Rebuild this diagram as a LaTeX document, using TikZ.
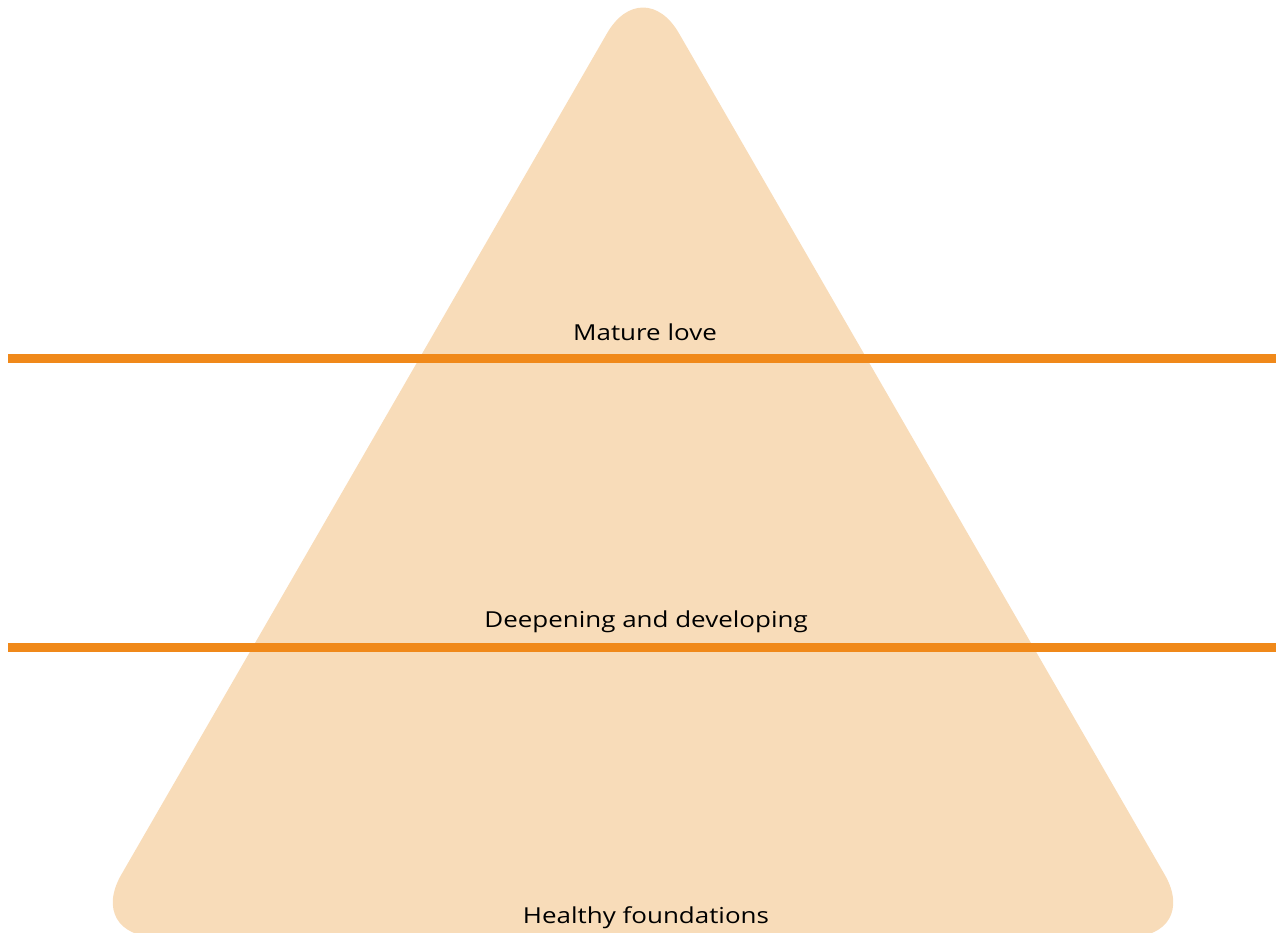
\documentclass[tikz,border=0pt]{standalone}
\usepackage{fontspec}
\setmainfont{Open Sans}
\newfontfamily\levelfont[FakeStretch=1.18]{Open Sans}
\definecolor{pyramidfill}{HTML}{F8DCB9}
\definecolor{bandline}{HTML}{F0891A}
\begin{document}
\begin{tikzpicture}[x=1pt,y=-1pt,
  label/.style={anchor=base,font=\levelfont\fontsize{22}{26}\selectfont,text=black,inner sep=0pt},
  divider/.style={line width=9pt,bandline}]
\useasboundingbox (0,0) rectangle (1276,933);
% rounded equilateral pyramid (corner radius about 42)
\coordinate (apex) at (643,-29);
\coordinate (bl) at (85.3,937);
\coordinate (br) at (1200.7,937);
\coordinate (bmid) at (643,937);
\fill[pyramidfill,rounded corners=72pt] (bmid) -- (bl) -- (apex) -- (br) -- cycle;
% level dividers
\coordinate (d1l) at (8,358.5);
\coordinate (d1r) at (1276,358.5);
\coordinate (d2l) at (8,647.5);
\coordinate (d2r) at (1276,647.5);
\draw[divider] (d1l) -- (d1r);
\draw[divider] (d2l) -- (d2r);
% level names
\node[label] (top) at (645,340) {Mature love};
\node[label] (mid) at (646,627) {Deepening and developing};
\node[label] (base) at (646,923) {Healthy foundations};
\end{tikzpicture}
\end{document}
